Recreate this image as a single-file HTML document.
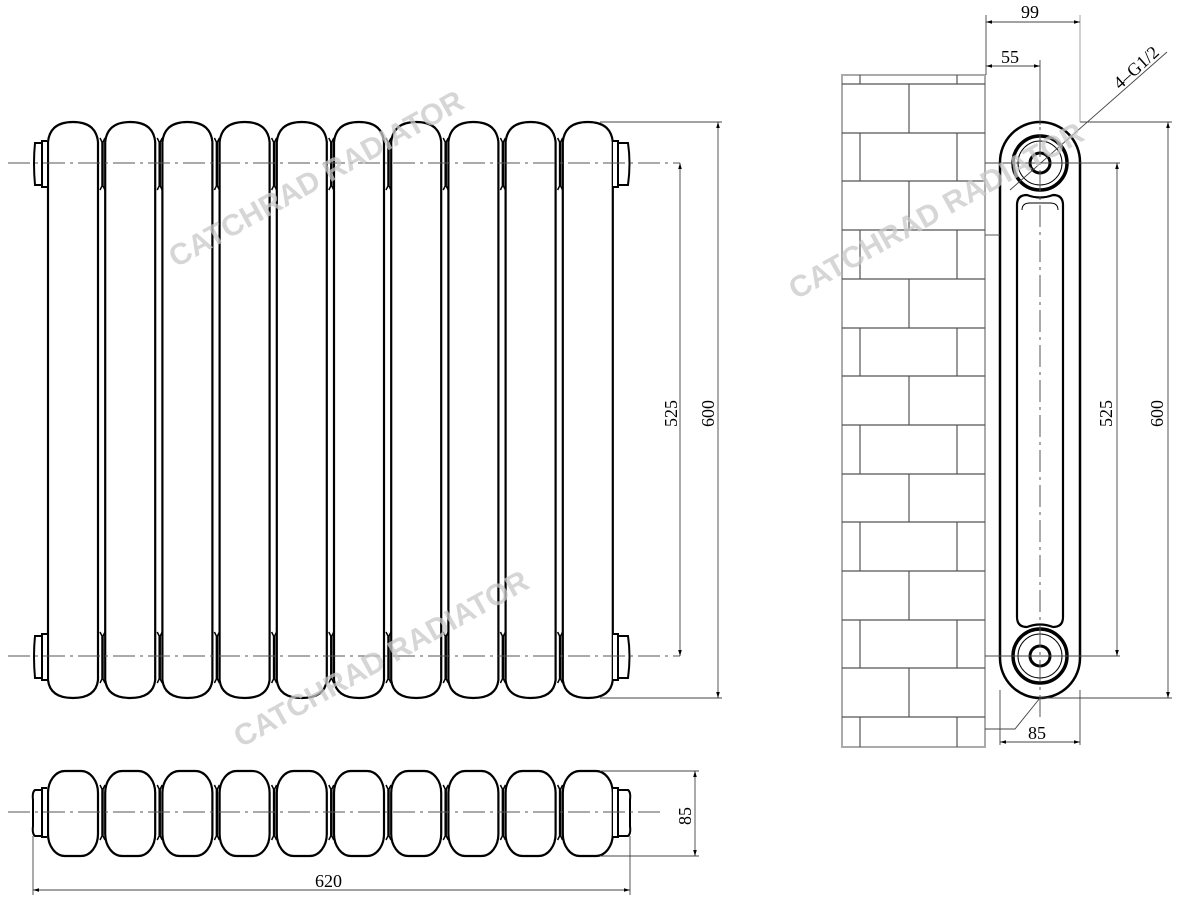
<!DOCTYPE html>
<html><head><meta charset="utf-8"><style>
html,body{margin:0;padding:0;background:#fff;width:1197px;height:900px;overflow:hidden}
svg{display:block}
text{font-family:"Liberation Serif",serif;fill:#000}
.wm{font-family:"Liberation Sans",sans-serif;font-weight:bold;font-size:30px;fill:#c8c8c8;fill-opacity:0.75}
</style></head><body>
<svg width="1197" height="900" viewBox="0 0 1197 900" xmlns="http://www.w3.org/2000/svg">
<defs>
<marker id="a" viewBox="0 0 10 10" refX="10" refY="5" markerWidth="10" markerHeight="6" orient="auto-start-reverse" markerUnits="userSpaceOnUse"><path d="M0,2 L10,5 L0,8 Z" fill="#000"/></marker>
<g id="col">
<path d="M0,142 Q2,122 25,122 Q48,122 50,142 L50,680 Q48,698 25,698 Q2,698 0,680 Z" fill="#fff" stroke="#000" stroke-width="2.2"/>
</g>
<g id="collar" stroke="#000" stroke-width="1.5" fill="none">
<path d="M1,138 L3,142 L3,186 L1,190 M6,138 L4,142 L4,186 L6,190"/>
<path d="M1,632 L3,636 L3,679 L1,683 M6,632 L4,636 L4,679 L6,683"/>
</g>
<g id="tcol">
<rect x="0" y="771" width="50" height="85" rx="17" ry="22" fill="#fff" stroke="#000" stroke-width="2.2"/>
</g>
<g id="tcollar" stroke="#000" stroke-width="1.5" fill="none">
<path d="M1,785 L3,789 L3,836 L1,840 M6,785 L4,789 L4,836 L6,840"/>
</g>
</defs>

<g>
<use href="#collar" x="99"/><use href="#collar" x="156.2"/><use href="#collar" x="213.4"/><use href="#collar" x="270.6"/><use href="#collar" x="327.8"/><use href="#collar" x="385"/><use href="#collar" x="442.2"/><use href="#collar" x="499.4"/><use href="#collar" x="556.6"/>
<use href="#col" x="48"/><use href="#col" x="105.2"/><use href="#col" x="162.4"/><use href="#col" x="219.6"/><use href="#col" x="276.8"/><use href="#col" x="334"/><use href="#col" x="391.2"/><use href="#col" x="448.4"/><use href="#col" x="505.6"/><use href="#col" x="562.8"/>
</g>
<g fill="#fff" stroke="#000" stroke-width="2">
<path d="M47,141 L42,141 L42,187 L47,187"/>
<path d="M42,143 L35,143 Q33,163 35,185 L42,185 Z"/>
<path d="M47,634 L42,634 L42,680 L47,680"/>
<path d="M42,636 L35,636 Q33,656 35,678 L42,678 Z"/>
<path d="M613,141 L618,141 L618,187 L613,187"/>
<path d="M618,143 L628,143 Q631,163 628,185 L618,185 Z"/>
<path d="M613,634 L618,634 L618,680 L613,680"/>
<path d="M618,636 L628,636 Q631,656 628,678 L618,678 Z"/>
</g>
<g stroke="#555" stroke-width="1" stroke-dasharray="22,5,3,5">
<line x1="8" y1="163" x2="680" y2="163"/>
<line x1="8" y1="656" x2="680" y2="656"/>
</g>
<g stroke="#444" stroke-width="0.9">
<line x1="600" y1="122" x2="722" y2="122"/>
<line x1="600" y1="698" x2="722" y2="698"/>
<line x1="680" y1="163" x2="680" y2="656" marker-start="url(#a)" marker-end="url(#a)"/>
<line x1="718" y1="122" x2="718" y2="698" marker-start="url(#a)" marker-end="url(#a)"/>
</g>
<text font-size="18" transform="translate(677,427) rotate(-90)">525</text>
<text font-size="18" transform="translate(714,427) rotate(-90)">600</text>

<g>
<use href="#tcollar" x="99"/><use href="#tcollar" x="156.2"/><use href="#tcollar" x="213.4"/><use href="#tcollar" x="270.6"/><use href="#tcollar" x="327.8"/><use href="#tcollar" x="385"/><use href="#tcollar" x="442.2"/><use href="#tcollar" x="499.4"/><use href="#tcollar" x="556.6"/>
<use href="#tcol" x="48"/><use href="#tcol" x="105.2"/><use href="#tcol" x="162.4"/><use href="#tcol" x="219.6"/><use href="#tcol" x="276.8"/><use href="#tcol" x="334"/><use href="#tcol" x="391.2"/><use href="#tcol" x="448.4"/><use href="#tcol" x="505.6"/><use href="#tcol" x="562.8"/>
</g>
<g fill="#fff" stroke="#000" stroke-width="2">
<path d="M47,788 L42,788 L42,837 L47,837"/>
<path d="M42,790 L35,790 Q32,792 33,800 L33,826 Q32,834 35,836 L42,836 Z"/>
<path d="M613,788 L618,788 L618,837 L613,837"/>
<path d="M618,790 L628,790 Q631,792 630,800 L630,826 Q631,834 628,836 L618,836 Z"/>
</g>
<line x1="8" y1="812" x2="660" y2="812" stroke="#555" stroke-width="1" stroke-dasharray="22,5,3,5"/>
<g stroke="#444" stroke-width="0.9">
<line x1="600" y1="771" x2="699" y2="771"/>
<line x1="600" y1="856" x2="699" y2="856"/>
<line x1="695" y1="771" x2="695" y2="856" marker-start="url(#a)" marker-end="url(#a)"/>
<line x1="33" y1="836" x2="33" y2="895"/>
<line x1="630" y1="836" x2="630" y2="895"/>
<line x1="33" y1="890" x2="630" y2="890" marker-start="url(#a)" marker-end="url(#a)"/>
</g>
<text font-size="18" transform="translate(691,825) rotate(-90)">85</text>
<text font-size="18" x="315" y="887">620</text>

<g stroke="#555" stroke-width="1.2" fill="none">
<rect x="842" y="75" width="143" height="672" stroke="#aaa" stroke-width="2"/>
<line x1="842" y1="84" x2="985" y2="84"/><line x1="860" y1="75" x2="860" y2="84"/><line x1="957" y1="75" x2="957" y2="84"/>
<line x1="842" y1="133" x2="985" y2="133"/><line x1="909" y1="84" x2="909" y2="133"/>
<line x1="842" y1="181" x2="985" y2="181"/><line x1="860" y1="133" x2="860" y2="181"/><line x1="957" y1="133" x2="957" y2="181"/>
<line x1="842" y1="230" x2="985" y2="230"/><line x1="909" y1="181" x2="909" y2="230"/>
<line x1="842" y1="279" x2="985" y2="279"/><line x1="860" y1="230" x2="860" y2="279"/><line x1="957" y1="230" x2="957" y2="279"/>
<line x1="842" y1="328" x2="985" y2="328"/><line x1="909" y1="279" x2="909" y2="328"/>
<line x1="842" y1="376" x2="985" y2="376"/><line x1="860" y1="328" x2="860" y2="376"/><line x1="957" y1="328" x2="957" y2="376"/>
<line x1="842" y1="425" x2="985" y2="425"/><line x1="909" y1="376" x2="909" y2="425"/>
<line x1="842" y1="474" x2="985" y2="474"/><line x1="860" y1="425" x2="860" y2="474"/><line x1="957" y1="425" x2="957" y2="474"/>
<line x1="842" y1="522" x2="985" y2="522"/><line x1="909" y1="474" x2="909" y2="522"/>
<line x1="842" y1="571" x2="985" y2="571"/><line x1="860" y1="522" x2="860" y2="571"/><line x1="957" y1="522" x2="957" y2="571"/>
<line x1="842" y1="620" x2="985" y2="620"/><line x1="909" y1="571" x2="909" y2="620"/>
<line x1="842" y1="668" x2="985" y2="668"/><line x1="860" y1="620" x2="860" y2="668"/><line x1="957" y1="620" x2="957" y2="668"/>
<line x1="842" y1="717" x2="985" y2="717"/><line x1="909" y1="668" x2="909" y2="717"/>
<line x1="860" y1="717" x2="860" y2="747"/><line x1="957" y1="717" x2="957" y2="747"/>
</g>

<rect x="1000" y="122" width="80" height="576" rx="40" ry="40" fill="#fff" stroke="#000" stroke-width="2.5"/>
<path d="M1017,205 Q1017,195 1027,195 Q1040,200 1053,195 Q1063,195 1063,205 L1063,617 Q1063,627 1053,627 Q1040,622 1027,627 Q1017,627 1017,617 Z" fill="#fff" stroke="#000" stroke-width="2.2"/>
<path d="M1022,210 Q1022,203 1030,203 L1050,203 Q1058,203 1058,210" fill="none" stroke="#000" stroke-width="1"/>
<g fill="none" stroke="#000">
<circle cx="1040" cy="163" r="27" stroke-width="3.5"/><circle cx="1040" cy="163" r="22" stroke-width="1"/><circle cx="1040" cy="163" r="10" stroke-width="3"/>
<circle cx="1040" cy="656" r="27" stroke-width="3.5"/><circle cx="1040" cy="656" r="22" stroke-width="1"/><circle cx="1040" cy="656" r="10" stroke-width="3"/>
</g>
<g stroke="#555" stroke-width="1" stroke-dasharray="22,5,3,5">
<line x1="1040" y1="100" x2="1040" y2="720"/>
</g>
<g stroke="#444" stroke-width="0.9" fill="none">
<line x1="985" y1="163" x2="1120" y2="163"/>
<line x1="985" y1="656" x2="1120" y2="656"/>
<line x1="985" y1="235" x2="1000" y2="235"/>
<line x1="1080" y1="122" x2="1172" y2="122"/>
<line x1="1040" y1="698" x2="1172" y2="698"/>
<line x1="1117" y1="163" x2="1117" y2="656" marker-start="url(#a)" marker-end="url(#a)"/>
<line x1="1168" y1="122" x2="1168" y2="698" marker-start="url(#a)" marker-end="url(#a)"/>
<line x1="986" y1="15" x2="986" y2="75"/>
<line x1="1080" y1="15" x2="1080" y2="122" stroke="#999"/>
<line x1="1040" y1="60" x2="1040" y2="125"/>
<line x1="986" y1="22" x2="1080" y2="22" marker-start="url(#a)" marker-end="url(#a)"/>
<line x1="986" y1="66" x2="1040" y2="66" marker-start="url(#a)" marker-end="url(#a)"/>
<line x1="1000" y1="690" x2="1000" y2="745"/>
<line x1="1080" y1="690" x2="1080" y2="745"/>
<line x1="1000" y1="742" x2="1080" y2="742" marker-start="url(#a)" marker-end="url(#a)"/>
<line x1="1010" y1="190" x2="1167" y2="52"/>
<polyline points="985,729 1015,729 1040,698"/>
</g>
<text font-size="18" x="1021" y="18">99</text>
<text font-size="18" x="1001" y="63">55</text>
<text font-size="18" x="1028" y="739">85</text>
<text font-size="18" transform="translate(1120,90) rotate(-42)">4–G1/2</text>
<text font-size="18" transform="translate(1112,427) rotate(-90)">525</text>
<text font-size="18" transform="translate(1163,427) rotate(-90)">600</text>

<text class="wm" transform="translate(176,268) rotate(-29)">CATCHRAD RADIATOR</text>
<text class="wm" transform="translate(241,748) rotate(-29)">CATCHRAD RADIATOR</text>
<text class="wm" transform="translate(796,300) rotate(-29)">CATCHRAD RADIATOR</text>
</svg>
</body></html>
